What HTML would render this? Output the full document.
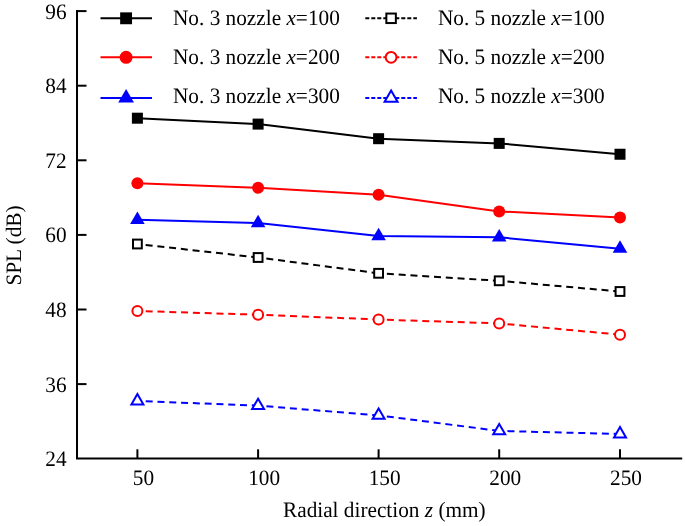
<!DOCTYPE html>
<html><head><meta charset="utf-8"><style>
html,body{margin:0;padding:0;background:#fff;}
svg{display:block;will-change:transform;}
text{text-rendering:geometricPrecision;font-family:"Liberation Serif",serif;font-size:22.0px;fill:#000;}
</style></head><body>
<svg width="685" height="526" viewBox="0 0 685 526">
<rect width="685" height="526" fill="#fff"/>
<path d="M77 10.9V458.6H681.2" fill="none" stroke="#000" stroke-width="2" stroke-linecap="square"/>
<line x1="77" y1="11.10" x2="86.5" y2="11.10" stroke="#000" stroke-width="2"/>
<line x1="77" y1="85.70" x2="86.5" y2="85.70" stroke="#000" stroke-width="2"/>
<line x1="77" y1="160.30" x2="86.5" y2="160.30" stroke="#000" stroke-width="2"/>
<line x1="77" y1="234.90" x2="86.5" y2="234.90" stroke="#000" stroke-width="2"/>
<line x1="77" y1="309.50" x2="86.5" y2="309.50" stroke="#000" stroke-width="2"/>
<line x1="77" y1="384.10" x2="86.5" y2="384.10" stroke="#000" stroke-width="2"/>
<line x1="137.40" y1="449.3" x2="137.40" y2="458.6" stroke="#000" stroke-width="2"/>
<line x1="258.10" y1="449.3" x2="258.10" y2="458.6" stroke="#000" stroke-width="2"/>
<line x1="378.60" y1="449.3" x2="378.60" y2="458.6" stroke="#000" stroke-width="2"/>
<line x1="499.20" y1="449.3" x2="499.20" y2="458.6" stroke="#000" stroke-width="2"/>
<line x1="620.00" y1="449.3" x2="620.00" y2="458.6" stroke="#000" stroke-width="2"/>
<text transform="translate(66.60 18.50) scale(0.967 1)" text-anchor="end">96</text>
<text transform="translate(66.60 93.10) scale(0.967 1)" text-anchor="end">84</text>
<text transform="translate(66.60 167.70) scale(0.967 1)" text-anchor="end">72</text>
<text transform="translate(66.60 242.30) scale(0.967 1)" text-anchor="end">60</text>
<text transform="translate(66.60 316.90) scale(0.967 1)" text-anchor="end">48</text>
<text transform="translate(66.60 391.50) scale(0.967 1)" text-anchor="end">36</text>
<text transform="translate(66.60 466.10) scale(0.967 1)" text-anchor="end">24</text>
<text transform="translate(143.40 484.80) scale(0.967 1)" text-anchor="middle">50</text>
<text transform="translate(264.10 484.80) scale(0.967 1)" text-anchor="middle">100</text>
<text transform="translate(384.60 484.80) scale(0.967 1)" text-anchor="middle">150</text>
<text transform="translate(505.20 484.80) scale(0.967 1)" text-anchor="middle">200</text>
<text transform="translate(626.00 484.80) scale(0.967 1)" text-anchor="middle">250</text>
<text transform="translate(283.00 516.80) scale(0.967 1)">Radial direction <tspan font-style="italic">z</tspan> (mm)</text>
<text transform="translate(20.70 285.60) rotate(-90) scale(0.967 1)">SPL (dB)</text>
<path d="M137.40 118.20 L258.10 124.10 L378.60 138.70 L499.20 143.40 L620.00 154.25" fill="none" stroke="#000" stroke-width="2" stroke-linejoin="round"/>
<path d="M137.40 183.20 L258.10 187.85 L378.60 194.70 L499.20 211.40 L620.00 217.50" fill="none" stroke="#f00" stroke-width="2" stroke-linejoin="round"/>
<path d="M137.40 219.80 L258.10 223.00 L378.60 236.00 L499.20 237.30 L620.00 248.70" fill="none" stroke="#00f" stroke-width="2" stroke-linejoin="round"/>
<line x1="137.40" y1="244.00" x2="258.10" y2="257.50" stroke="#000" stroke-width="2" stroke-dasharray="7 4.8" stroke-dashoffset="3.5"/>
<line x1="258.10" y1="257.50" x2="378.60" y2="273.30" stroke="#000" stroke-width="2" stroke-dasharray="7 4.8" stroke-dashoffset="3.5"/>
<line x1="378.60" y1="273.30" x2="499.20" y2="280.80" stroke="#000" stroke-width="2" stroke-dasharray="7 4.8" stroke-dashoffset="3.5"/>
<line x1="499.20" y1="280.80" x2="620.00" y2="291.50" stroke="#000" stroke-width="2" stroke-dasharray="7 4.8" stroke-dashoffset="3.5"/>
<line x1="137.40" y1="311.00" x2="258.10" y2="314.70" stroke="#f00" stroke-width="2" stroke-dasharray="7 4.8" stroke-dashoffset="3.5"/>
<line x1="258.10" y1="314.70" x2="378.60" y2="319.50" stroke="#f00" stroke-width="2" stroke-dasharray="7 4.8" stroke-dashoffset="3.5"/>
<line x1="378.60" y1="319.50" x2="499.20" y2="323.40" stroke="#f00" stroke-width="2" stroke-dasharray="7 4.8" stroke-dashoffset="3.5"/>
<line x1="499.20" y1="323.40" x2="620.00" y2="334.70" stroke="#f00" stroke-width="2" stroke-dasharray="7 4.8" stroke-dashoffset="3.5"/>
<line x1="137.40" y1="401.00" x2="258.10" y2="405.60" stroke="#00f" stroke-width="2" stroke-dasharray="7 4.8" stroke-dashoffset="3.5"/>
<line x1="258.10" y1="405.60" x2="378.60" y2="415.40" stroke="#00f" stroke-width="2" stroke-dasharray="7 4.8" stroke-dashoffset="3.5"/>
<line x1="378.60" y1="415.40" x2="499.20" y2="430.90" stroke="#00f" stroke-width="2" stroke-dasharray="7 4.8" stroke-dashoffset="3.5"/>
<line x1="499.20" y1="430.90" x2="620.00" y2="434.00" stroke="#00f" stroke-width="2" stroke-dasharray="7 4.8" stroke-dashoffset="3.5"/>
<rect x="131.90" y="112.70" width="11.00" height="11.00" fill="#000"/>
<rect x="252.60" y="118.60" width="11.00" height="11.00" fill="#000"/>
<rect x="373.10" y="133.20" width="11.00" height="11.00" fill="#000"/>
<rect x="493.70" y="137.90" width="11.00" height="11.00" fill="#000"/>
<rect x="614.50" y="148.75" width="11.00" height="11.00" fill="#000"/>
<circle cx="137.40" cy="183.20" r="6.00" fill="#f00"/>
<circle cx="258.10" cy="187.85" r="6.00" fill="#f00"/>
<circle cx="378.60" cy="194.70" r="6.00" fill="#f00"/>
<circle cx="499.20" cy="211.40" r="6.00" fill="#f00"/>
<circle cx="620.00" cy="217.50" r="6.00" fill="#f00"/>
<path d="M137.40 211.47L144.70 223.97L130.10 223.97Z" fill="#00f"/>
<path d="M258.10 214.67L265.40 227.17L250.80 227.17Z" fill="#00f"/>
<path d="M378.60 227.67L385.90 240.17L371.30 240.17Z" fill="#00f"/>
<path d="M499.20 228.97L506.50 241.47L491.90 241.47Z" fill="#00f"/>
<path d="M620.00 240.37L627.30 252.87L612.70 252.87Z" fill="#00f"/>
<rect x="133.00" y="239.60" width="8.80" height="8.80" fill="#fff" stroke="#000" stroke-width="2"/>
<rect x="253.70" y="253.10" width="8.80" height="8.80" fill="#fff" stroke="#000" stroke-width="2"/>
<rect x="374.20" y="268.90" width="8.80" height="8.80" fill="#fff" stroke="#000" stroke-width="2"/>
<rect x="494.80" y="276.40" width="8.80" height="8.80" fill="#fff" stroke="#000" stroke-width="2"/>
<rect x="615.60" y="287.10" width="8.80" height="8.80" fill="#fff" stroke="#000" stroke-width="2"/>
<circle cx="137.40" cy="311.00" r="5.00" fill="#fff" stroke="#f00" stroke-width="2"/>
<circle cx="258.10" cy="314.70" r="5.00" fill="#fff" stroke="#f00" stroke-width="2"/>
<circle cx="378.60" cy="319.50" r="5.00" fill="#fff" stroke="#f00" stroke-width="2"/>
<circle cx="499.20" cy="323.40" r="5.00" fill="#fff" stroke="#f00" stroke-width="2"/>
<circle cx="620.00" cy="334.70" r="5.00" fill="#fff" stroke="#f00" stroke-width="2"/>
<path d="M137.40 394.07L143.40 404.47L131.40 404.47Z" fill="#fff" stroke="#00f" stroke-width="2" stroke-linejoin="miter"/>
<path d="M258.10 398.67L264.10 409.07L252.10 409.07Z" fill="#fff" stroke="#00f" stroke-width="2" stroke-linejoin="miter"/>
<path d="M378.60 408.47L384.60 418.87L372.60 418.87Z" fill="#fff" stroke="#00f" stroke-width="2" stroke-linejoin="miter"/>
<path d="M499.20 423.97L505.20 434.37L493.20 434.37Z" fill="#fff" stroke="#00f" stroke-width="2" stroke-linejoin="miter"/>
<path d="M620.00 427.07L626.00 437.47L614.00 437.47Z" fill="#fff" stroke="#00f" stroke-width="2" stroke-linejoin="miter"/>
<line x1="100.5" y1="18.3" x2="152.0" y2="18.3" stroke="#000" stroke-width="2"/>
<rect x="120.16" y="12.36" width="11.88" height="11.88" fill="#000"/>
<text transform="translate(173.00 25.00) scale(0.967 1)">No. 3 nozzle <tspan font-style="italic">x</tspan>=<tspan>100</tspan></text>
<line x1="100.5" y1="57.3" x2="152.0" y2="57.3" stroke="#f00" stroke-width="2"/>
<circle cx="126.10" cy="57.30" r="6.48" fill="#f00"/>
<text transform="translate(173.00 63.50) scale(0.967 1)">No. 3 nozzle <tspan font-style="italic">x</tspan>=<tspan>200</tspan></text>
<line x1="100.5" y1="98.1" x2="152.0" y2="98.1" stroke="#00f" stroke-width="2"/>
<path d="M126.10 89.10L133.98 102.60L118.22 102.60Z" fill="#00f"/>
<text transform="translate(173.00 102.70) scale(0.967 1)">No. 3 nozzle <tspan font-style="italic">x</tspan>=<tspan>300</tspan></text>
<line x1="365.3" y1="18.3" x2="416.9" y2="18.3" stroke="#000" stroke-width="2" stroke-dasharray="4 2"/>
<rect x="386.35" y="13.55" width="9.50" height="9.50" fill="#fff" stroke="#000" stroke-width="2"/>
<text transform="translate(437.90 25.00) scale(0.967 1)">No. 5 nozzle <tspan font-style="italic">x</tspan>=<tspan>100</tspan></text>
<line x1="365.3" y1="57.3" x2="416.9" y2="57.3" stroke="#f00" stroke-width="2" stroke-dasharray="4 2"/>
<circle cx="391.10" cy="57.30" r="5.40" fill="#fff" stroke="#f00" stroke-width="2"/>
<text transform="translate(437.90 63.50) scale(0.967 1)">No. 5 nozzle <tspan font-style="italic">x</tspan>=<tspan>200</tspan></text>
<line x1="365.3" y1="98.1" x2="416.9" y2="98.1" stroke="#00f" stroke-width="2" stroke-dasharray="4 2"/>
<path d="M391.10 90.61L397.58 101.84L384.62 101.84Z" fill="#fff" stroke="#00f" stroke-width="2" stroke-linejoin="miter"/>
<text transform="translate(437.90 102.70) scale(0.967 1)">No. 5 nozzle <tspan font-style="italic">x</tspan>=<tspan>300</tspan></text>
</svg>
</body></html>
